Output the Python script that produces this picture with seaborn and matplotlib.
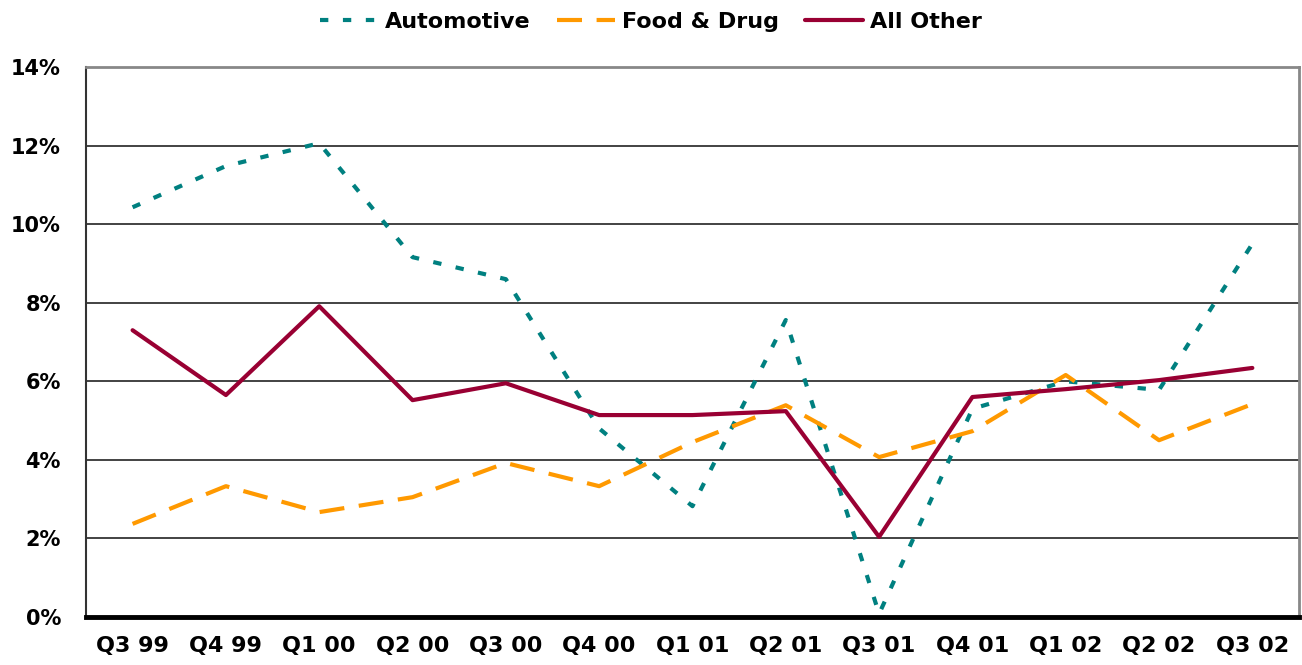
import numpy as np
import pandas as pd
import matplotlib
matplotlib.use('Agg')
import matplotlib.pyplot as plt
import seaborn as sns

# Quarterly values (percent)
quarters = ['Q3 99', 'Q4 99', 'Q1 00', 'Q2 00', 'Q3 00', 'Q4 00', 'Q1 01',
            'Q2 01', 'Q3 01', 'Q4 01', 'Q1 02', 'Q2 02', 'Q3 02']
automotive = [10.43, 11.48, 12.06, 9.16, 8.6, 4.8, 2.82, 7.56, 0.08, 5.3, 6.0, 5.78, 9.5]
food_drug = [2.37, 3.33, 2.67, 3.05, 3.92, 3.33, 4.45, 5.39, 4.07, 4.73, 6.16, 4.5, 5.42]
all_other = [7.3, 5.65, 7.91, 5.52, 5.95, 5.14, 5.14, 5.24, 2.04, 5.6, 5.8, 6.03, 6.34]
series_names = ['Automotive', 'Food & Drug', 'All Other']
y_ticks = [0, 2, 4, 6, 8, 10, 12, 14]

df = pd.DataFrame({'quarter': quarters, 'Automotive': automotive,
                   'Food & Drug': food_drug, 'All Other': all_other})
long_df = df.melt(id_vars='quarter', var_name='series', value_name='pct')

sns.set_style('white')
plt.rcParams['font.family'] = ['DejaVu Sans']
plt.rcParams['text.color'] = 'black'
plt.rcParams['xtick.color'] = 'black'
plt.rcParams['ytick.color'] = 'black'

colors = {'Automotive': '#008080', 'Food & Drug': '#FF9900', 'All Other': '#990033'}
dashes = {'Automotive': (2, 3.5), 'Food & Drug': (6, 3.5), 'All Other': ''}

fig = plt.figure(figsize=(13.02, 6.65), dpi=100)
ax = fig.add_axes([0.066, 0.0722, 0.9317, 0.827])

sns.lineplot(data=long_df, x='quarter', y='pct', hue='series', style='series',
             hue_order=series_names, style_order=series_names,
             palette=colors, dashes=dashes, linewidth=3, sort=False, ax=ax)

ax.set_xlim(-0.5, len(quarters) - 0.5)
ax.set_ylim(0, 14)
ax.set_yticks(y_ticks)
ax.set_yticklabels([f'{t}%' for t in y_ticks], fontsize=15, fontweight='bold')
ax.set_xticks(np.arange(len(quarters)))
ax.set_xticklabels(quarters, fontsize=16, fontweight='bold')
ax.set_xticks(np.arange(len(quarters) + 1) - 0.5, minor=True)
ax.tick_params(axis='x', which='major', length=0, pad=14)
ax.tick_params(axis='x', which='minor', length=7, width=3, color='black', direction='out')
ax.tick_params(axis='y', length=6, width=1, color='#555555', direction='out', pad=12)
ax.set_xlabel('')
ax.set_ylabel('')

ax.grid(axis='y', color='#222222', linewidth=1.2)
ax.set_axisbelow(True)
for side in ['top', 'right']:
    ax.spines[side].set_color('#888888')
    ax.spines[side].set_linewidth(2)
ax.spines['left'].set_color('#333333')
ax.spines['left'].set_linewidth(1.5)
ax.spines['bottom'].set_color('black')
ax.spines['bottom'].set_linewidth(3.5)

handles, labels = ax.get_legend_handles_labels()
ax.get_legend().remove()
fig.legend(handles, labels, loc='center', bbox_to_anchor=(0.5, 0.967), ncol=3,
           frameon=False, handlelength=2.6, handletextpad=0.3, columnspacing=1.2,
           prop={'size': 16, 'weight': 'bold'})

fig.savefig('out.png', dpi=100)
